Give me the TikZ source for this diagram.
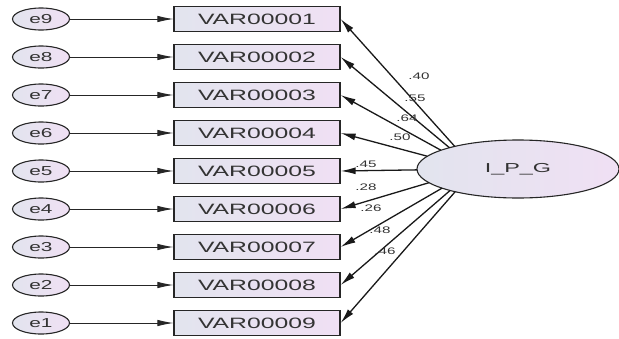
\documentclass[tikz,border=0pt]{standalone}
\usepackage{fontspec}
\usepackage{graphicx}
\setmainfont{Liberation Sans}
\usetikzlibrary{shapes.geometric,arrows.meta,intersections}
\definecolor{boxL}{HTML}{E2E4EE}
\definecolor{boxR}{HTML}{F0E0F4}
\newcommand\stretchtxt[2]{\scalebox{#1}[1]{#2}}
\begin{document}
\begin{tikzpicture}[x=1pt,y=-1pt,
  obs/.style={rectangle, draw=black!85, line width=1.2pt, minimum width=166pt, minimum height=25pt, inner sep=0pt,
    left color=boxL, right color=boxR, text=black!80, font=\fontsize{15}{15}\selectfont},
  err/.style={ellipse, draw=black!85, line width=1.1pt, minimum width=57pt, minimum height=22pt, inner sep=0pt,
    left color=boxL, right color=boxR, text=black!80, font=\fontsize{13}{13}\selectfont},
  latent/.style={ellipse, draw=black!85, line width=1.1pt, minimum width=202pt, minimum height=58pt, inner sep=0pt,
    left color=boxL, right color=boxR, text=black!80, font=\fontsize{13}{13}\selectfont},
  errarr/.style={line width=0.9pt, black!85, -{Latex[length=16pt,width=6.5pt]}},
  loadarr/.style={line width=1.3pt, black!90, -{Latex[length=15pt,width=7pt]}},
  lbl/.style={inner sep=0pt, text=black!80, font=\fontsize{9.5}{9.5}\selectfont}]
\path[use as bounding box, fill=white] (0,0) rectangle (619,338);
\node[latent] (L) at (518,169) {\stretchtxt{1.8}{I\_P\_G}};
\coordinate (F) at (475,169);
\path[name path=ell] (518,169) ellipse [x radius=101pt, y radius=29pt];
\foreach \i/\e in {1/9,2/8,3/7,4/6,5/5,6/4,7/3,8/2,9/1} {
  \pgfmathsetmacro{\yy}{19+38*(\i-1)}
  \node[obs] (b\i) at (257,\yy) {\stretchtxt{1.65}{VAR0000\i}};
  \node[err] (e\e) at (41,\yy) {\stretchtxt{1.6}{e\e}};
  \draw[errarr] (e\e) -- (b\i);
  \path[name path=ray\i] (F) -- (b\i.east);
  \path[name intersections={of=ell and ray\i, by={s\i}}];
  \draw[loadarr] (s\i) -- (b\i.east);
}
\foreach \n/\x/\y/\t in {1/419/76/.40, 2/415/98/.55, 3/407/118/.64, 4/400/137/.50, 5/366/164/.45,
  6/366/187/.28, 7/371/208/.26, 8/380/230/.48, 9/385/251/.46} {
  \node[lbl] (l\n) at (\x,\y) {\stretchtxt{1.6}{\t}};
}
\end{tikzpicture}
\end{document}
